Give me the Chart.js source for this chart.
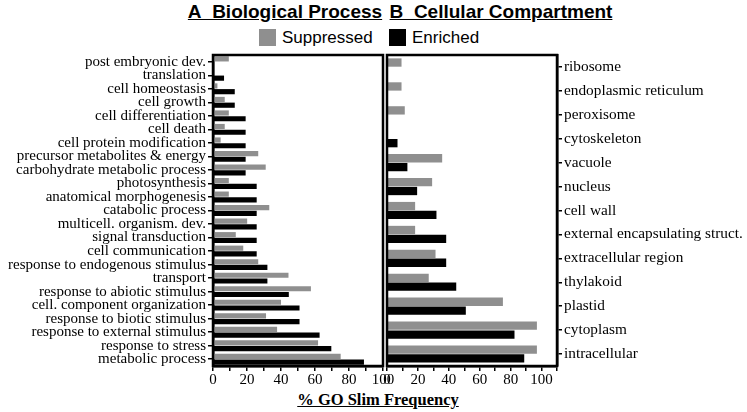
<!DOCTYPE html>
<html>
<head>
<meta charset="utf-8">
<script src="https://cdn.jsdelivr.net/npm/chart.js@4.4.1/dist/chart.umd.min.js"></script>
<style>
  body { margin: 0; width: 747px; height: 412px; position: relative; background: #fff; overflow: hidden; }
  .title { position: absolute; top: 1px; font: bold 19px 'Liberation Sans Narrow', 'Arial Narrow', 'Liberation Sans', sans-serif; text-decoration: underline; white-space: nowrap; transform: translateX(-50%); }
  .legend { position: absolute; top: 28px; font: 17px 'Liberation Sans', Arial, sans-serif; white-space: nowrap; }
  .legend span.box { display: inline-block; width: 17px; height: 17px; vertical-align: -3px; margin-right: 6px; }
  .xtitle { position: absolute; top: 390px; left: 378px; transform: translateX(-50%); font: bold 16.5px 'Liberation Serif', 'Times New Roman', serif; text-decoration: underline; white-space: nowrap; }
  canvas { position: absolute; top: 0; }
</style>
</head>
<body>
<div class="title" style="left:285px">A&nbsp; Biological Process</div>
<div class="title" style="left:501px">B&nbsp; Cellular Compartment</div>
<div class="legend" style="left:259px"><span class="box" style="background:#8f8f8f"></span>Suppressed</div>
<div class="legend" style="left:389px"><span class="box" style="background:#000"></span>Enriched</div>
<div class="xtitle">% GO Slim Frequency</div>
<canvas id="bpChart" width="400" height="412" style="left:0"></canvas>
<canvas id="ccChart" width="367" height="412" style="left:380px"></canvas>
<script>
// Biological Process (painel A)
const bpLabels = ['post embryonic dev.', 'translation', 'cell homeostasis', 'cell growth',
    'cell differentiation', 'cell death', 'cell protein modification',
    'precursor metabolites & energy', 'carbohydrate metabolic process', 'photosynthesis',
    'anatomical morphogenesis', 'catabolic process', 'multicell. organism. dev.',
    'signal transduction', 'cell communication', 'response to endogenous stimulus',
    'transport', 'response to abiotic stimulus', 'cell. component organization',
    'response to biotic stimulus', 'response to external stimulus', 'response to stress',
    'metabolic process'];
const bpSuppressed = [9.3, 0, 2.6, 6.9, 9.3, 6.9, 4.5, 26.6, 31, 9.3, 9.3, 33.1, 20.1,
    13.4, 17.8, 26.6, 44.4, 57.6, 40, 31.2, 37.7, 61.8, 75.1];
const bpEnriched = [0, 6.5, 12.8, 12.8, 19.2, 19.2, 19.2, 19.2, 19.2, 25.7, 25.7, 25.7, 25.7,
    25.7, 25.7, 32, 32, 44.6, 50.9, 50.9, 62.7, 69.6, 88.8];

// Cellular Compartment (painel B)
const ccLabels = ['ribosome', 'endoplasmic reticulum', 'peroxisome', 'cytoskeleton', 'vacuole',
    'nucleus', 'cell wall', 'external encapsulating struct.', 'extracellular region',
    'thylakoid', 'plastid', 'cytoplasm', 'intracellular'];
const ccSuppressed = [9.4, 9.4, 11.5, 0, 35.7, 29.2, 18.2, 18.2, 31.4, 27, 75, 97, 97];
const ccEnriched = [0, 0, 0, 6.8, 13.2, 19.5, 32, 38.3, 38.3, 44.8, 51, 82.5, 88.8];

const GRAY = '#8f8f8f';
const BLACK = '#000';
const serif = "'Liberation Serif', 'Times New Roman', serif";

// desenha a moldura em volta da área do gráfico
const boxPlugin = {
    id: 'box',
    afterDraw(chart) {
        const { ctx, chartArea: a } = chart;
        ctx.save();
        ctx.strokeStyle = '#000';
        ctx.lineWidth = 2.5;
        ctx.strokeRect(a.left, a.top, a.right - a.left, a.bottom - a.top);
        ctx.restore();
    }
};

function xScale(max) {
    return {
        min: 0, max: max,
        afterFit: s => { s.height = 46; },
        ticks: {
            stepSize: 10, autoSkip: false, maxRotation: 0, color: '#000', padding: 0,
            font: { family: serif, size: 15 },
            callback: v => (v % 20 === 0 && v <= 100) ? v : ''
        },
        grid: { drawOnChartArea: false, color: '#000', lineWidth: 1.5, tickLength: 5 },
        border: { color: '#000', width: 2.5 }
    };
}

function makeChart(id, labels, sup, enr, opts) {
    return new Chart(document.getElementById(id), {
        type: 'bar',
        data: {
            labels: labels,
            datasets: [
                { label: 'Suppressed', data: sup, backgroundColor: GRAY,
                  categoryPercentage: opts.catPct, barPercentage: opts.barPct },
                { label: 'Enriched', data: enr, backgroundColor: BLACK,
                  categoryPercentage: opts.catPct, barPercentage: opts.barPct }
            ]
        },
        options: {
            indexAxis: 'y',
            responsive: false,
            animation: false,
            layout: { padding: opts.padding },
            plugins: { legend: { display: false }, tooltip: { enabled: false } },
            scales: {
                x: xScale(opts.xmax),
                y: {
                    position: opts.yPos,
                    afterFit: s => { s.width = opts.yWidth; },
                    ticks: { color: '#000', padding: 2, autoSkip: false,
                             font: { family: serif, size: opts.labelSize } },
                    grid: { drawOnChartArea: false, offset: false, color: '#000', lineWidth: 1.5, tickLength: 5 },
                    border: { color: '#000', width: 2.5 }
                }
            }
        },
        plugins: [boxPlugin]
    });
}

makeChart('bpChart', bpLabels, bpSuppressed, bpEnriched, {
    catPct: 0.85, barPct: 0.9, xmax: 100, yPos: 'left', yWidth: 213, labelSize: 15,
    padding: { top: 55, right: 17, left: 0, bottom: 0 }
});

makeChart('ccChart', ccLabels, ccSuppressed, ccEnriched, {
    catPct: 0.74, barPct: 0.94, xmax: 110, yPos: 'right', yWidth: 190, labelSize: 15.3,
    padding: { top: 55, right: 0, left: 7, bottom: 0 }
});
</script>
</body>
</html>
